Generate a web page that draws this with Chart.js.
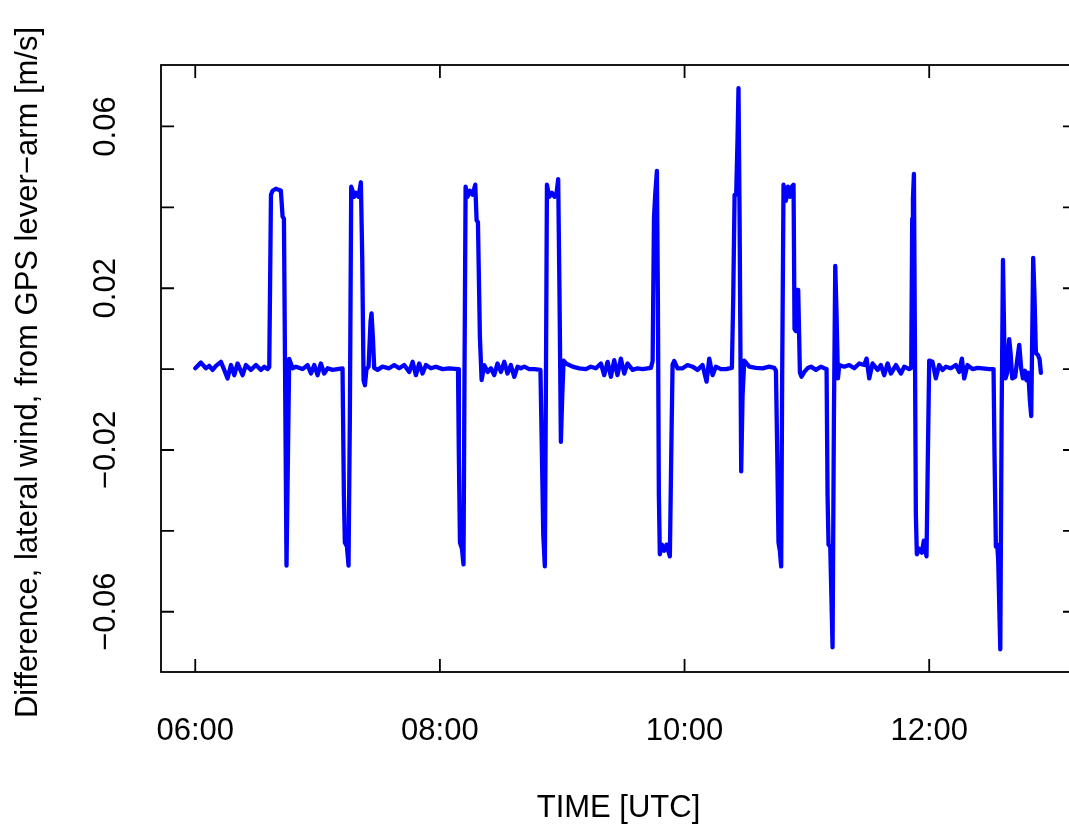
<!DOCTYPE html>
<html lang="en">
<head>
<meta charset="UTF-8">
<title>Difference, lateral wind</title>
<script src="https://cdn.jsdelivr.net/npm/chart.js@4"></script>
<style>
    html, body {
        margin: 0;
        padding: 0;
        background: #fff;
        overflow: hidden;
    }
    #wrap {
        position: absolute;
        left: 0;
        top: 0;
    }
</style>
</head>
<body>
<div id="wrap"><canvas id="chart" width="1090" height="827"></canvas></div>
<script>
// time in decimal hours (UTC), difference in m/s
const timeHours = [
    6.000, 6.046, 6.087, 6.114, 6.142, 6.169, 6.210, 6.237, 6.264, 6.292,
    6.319, 6.346, 6.387, 6.414, 6.455, 6.496, 6.537, 6.564, 6.591,
    6.605, 6.619, 6.632, 6.659, 6.687, 6.700, 6.714, 6.725, 6.746, 6.768,
    6.796, 6.823, 6.877, 6.918, 6.946, 6.973, 7.000, 7.027, 7.054, 7.082,
    7.123, 7.163, 7.204,
    7.215, 7.223, 7.240, 7.253, 7.264, 7.275, 7.286, 7.300, 7.313, 7.335,
    7.354, 7.365, 7.376, 7.387, 7.400, 7.417, 7.433, 7.441, 7.452, 7.463,
    7.490, 7.531, 7.585, 7.626, 7.667, 7.708, 7.749, 7.777, 7.804, 7.831,
    7.858, 7.886, 7.926, 7.967, 8.022, 8.076, 8.148,
    8.155, 8.164, 8.180, 8.193, 8.201, 8.210, 8.226, 8.245, 8.267, 8.289,
    8.300, 8.311, 8.327, 8.341,
    8.363, 8.390, 8.417, 8.444, 8.471, 8.499, 8.526, 8.553, 8.580, 8.608,
    8.635, 8.662, 8.690, 8.730, 8.771, 8.822,
    8.837, 8.845, 8.858, 8.867, 8.875, 8.894, 8.916, 8.937, 8.954, 8.967,
    8.978, 8.989, 9.000, 9.011,
    9.030, 9.085, 9.139, 9.194, 9.234, 9.275, 9.316, 9.343, 9.371, 9.398,
    9.425, 9.452, 9.479, 9.507, 9.534, 9.575, 9.616, 9.657, 9.725,
    9.739, 9.750, 9.760, 9.774, 9.782, 9.790, 9.798, 9.815, 9.833, 9.853,
    9.880, 9.891, 9.902, 9.915,
    9.943, 9.984, 10.024, 10.065, 10.106, 10.147, 10.180, 10.202, 10.229, 10.256,
    10.297, 10.338, 10.387,
    10.398, 10.409, 10.422, 10.433, 10.441, 10.450, 10.463, 10.474, 10.488,
    10.529, 10.583, 10.638, 10.692, 10.733, 10.747,
    10.758, 10.768, 10.779, 10.790, 10.798, 10.809, 10.828, 10.845, 10.861, 10.877,
    10.891, 10.899, 10.910, 10.918, 10.929, 10.943, 10.956,
    10.979, 11.005, 11.033, 11.074, 11.114, 11.142, 11.161,
    11.169, 11.177, 11.191, 11.210, 11.221, 11.232, 11.243, 11.254, 11.265,
    11.305, 11.346, 11.387, 11.428, 11.469, 11.488, 11.510, 11.537, 11.578, 11.605,
    11.632, 11.660, 11.687, 11.728, 11.769, 11.796, 11.837, 11.853,
    11.861, 11.867, 11.875, 11.883, 11.891, 11.899, 11.918, 11.940, 11.956, 11.978,
    11.989, 12.000,
    12.027, 12.054, 12.081, 12.109, 12.136, 12.177, 12.218, 12.245, 12.267, 12.286,
    12.313, 12.354, 12.395, 12.436, 12.491, 12.526,
    12.534, 12.545, 12.556, 12.564, 12.581, 12.592, 12.603, 12.613, 12.624, 12.638,
    12.654, 12.665, 12.679, 12.703, 12.719, 12.736, 12.752, 12.766, 12.782, 12.796,
    12.810, 12.823, 12.834, 12.842, 12.850, 12.861, 12.872, 12.888, 12.902, 12.913
];

const lateralDiff = [
    0.0002, 0.0016, 0.0002, 0.0008, -0.0002, 0.0008, 0.0018, -0.0002, -0.0023, 0.0010,
    -0.0015, 0.0014, -0.0015, 0.0010, -0.0002, 0.0010, -0.0002, 0.0006, 0.0000,
    0.0005, 0.0431, 0.0441, 0.0446, 0.0443, 0.0441, 0.0377, 0.0372, -0.0486, 0.0025,
    0.0002, 0.0006, 0.0000, 0.0010, -0.0011, 0.0010, -0.0015, 0.0014, -0.0011, 0.0002,
    -0.0002, 0.0000, 0.0002,
    -0.0310, -0.0429, -0.0439, -0.0486, -0.0116, 0.0451, 0.0441, 0.0426, 0.0436, 0.0426,
    0.0462, 0.0275, -0.0028, -0.0040, 0.0000, 0.0006, 0.0118, 0.0138, 0.0079, 0.0003,
    -0.0002, 0.0006, 0.0002, 0.0010, 0.0002, 0.0010, -0.0007, 0.0018, -0.0015, 0.0014,
    -0.0011, 0.0010, 0.0002, 0.0006, 0.0000, 0.0002, 0.0000,
    -0.0214, -0.0429, -0.0444, -0.0483, -0.0019, 0.0451, 0.0426, 0.0441, 0.0431, 0.0456,
    0.0368, 0.0363, 0.0079, -0.0027,
    0.0010, -0.0007, 0.0002, -0.0015, 0.0014, -0.0007, 0.0018, -0.0011, 0.0010, -0.0019,
    0.0006, 0.0002, 0.0006, 0.0000, 0.0000, -0.0002,
    -0.0263, -0.0410, -0.0488, -0.0019, 0.0456, 0.0426, 0.0436, 0.0426, 0.0436, 0.0470,
    0.0177, -0.0180, -0.0067, 0.0021,
    0.0014, 0.0006, 0.0002, 0.0000, 0.0006, 0.0002, 0.0014, -0.0015, 0.0018, -0.0019,
    0.0022, -0.0015, 0.0026, -0.0011, 0.0014, -0.0002, 0.0002, 0.0000, 0.0003,
    0.0020, 0.0372, 0.0431, 0.0490, 0.0177, -0.0310, -0.0458, -0.0434, -0.0449, -0.0434,
    -0.0463, -0.0214, 0.0011, 0.0020,
    0.0002, 0.0002, 0.0010, 0.0006, -0.0002, 0.0010, -0.0031, 0.0026, -0.0015, 0.0006,
    0.0000, 0.0000, 0.0003,
    0.0177, 0.0431, 0.0431, 0.0568, 0.0695, 0.0372, -0.0253, -0.0067, 0.0021,
    0.0006, 0.0003, 0.0002, 0.0006, 0.0003, -0.0004,
    -0.0214, -0.0429, -0.0449, -0.0488, -0.0019, 0.0456, 0.0416, 0.0451, 0.0426, 0.0451,
    0.0456, 0.0099, 0.0094, 0.0196, 0.0196, -0.0009, -0.0019,
    -0.0007, 0.0002, 0.0006, -0.0002, 0.0006, 0.0002, 0.0000,
    -0.0312, -0.0434, -0.0439, -0.0688, -0.0116, 0.0255, 0.0128, -0.0023, 0.0010,
    0.0006, 0.0010, 0.0002, 0.0014, 0.0010, 0.0026, -0.0023, 0.0014, -0.0002, 0.0010,
    -0.0015, 0.0014, -0.0011, 0.0010, -0.0011, 0.0006, 0.0000, 0.0003,
    0.0372, 0.0421, 0.0483, 0.0079, -0.0361, -0.0458, -0.0444, -0.0454, -0.0424, -0.0463,
    -0.0214, 0.0021,
    0.0018, -0.0023, 0.0010, -0.0002, 0.0006, 0.0002, 0.0010, -0.0007, 0.0026, -0.0023,
    0.0010, 0.0000, 0.0003, 0.0002, 0.0000, 0.0000,
    -0.0214, -0.0439, -0.0434, -0.0473, -0.0693, -0.0116, 0.0270, 0.0079, -0.0023, -0.0009,
    0.0074, 0.0040, -0.0023, -0.0019, 0.0021, 0.0060, 0.0001, -0.0023, -0.0004, -0.0028,
    -0.0009, -0.0077, -0.0116, 0.0079, 0.0275, 0.0177, 0.0040, 0.0035, 0.0025, -0.0009
];

const xTickHours = [6, 8, 10, 12];
const yTickValues = [-0.06, -0.04, -0.02, 0, 0.02, 0.04, 0.06];
const yTickLabelled = [-0.06, -0.02, 0.02, 0.06];
const xTitle = 'TIME [UTC]';
const yTitle = 'Difference, lateral wind, from GPS lever\u2212arm [m/s]';

const FONT = '31px "Liberation Sans", Arial, sans-serif';
const TICK_LEN = 13;

function hhmm(h) {
    const hh = Math.floor(h);
    const mm = Math.round((h - hh) * 60);
    return String(hh).padStart(2, '0') + ':' + String(mm).padStart(2, '0');
}

function fmtY(v) {
    return v.toFixed(2).replace('-', '\u2212');
}

// box, inward ticks on all four sides and the text, R style
const frame = {
    id: 'frame',
    afterDatasetsDraw(chart) {
        const { ctx, chartArea: a, scales: { x, y } } = chart;
        ctx.save();
        ctx.strokeStyle = '#000';
        ctx.lineWidth = 1.8;
        ctx.strokeRect(a.left, a.top, a.right - a.left, a.bottom - a.top);

        ctx.beginPath();
        xTickHours.forEach(h => {
            const px = x.getPixelForValue(h);
            ctx.moveTo(px, a.bottom);
            ctx.lineTo(px, a.bottom - TICK_LEN);
            ctx.moveTo(px, a.top);
            ctx.lineTo(px, a.top + TICK_LEN);
        });
        yTickValues.forEach(v => {
            const py = y.getPixelForValue(v);
            ctx.moveTo(a.left, py);
            ctx.lineTo(a.left + TICK_LEN, py);
            ctx.moveTo(a.right, py);
            ctx.lineTo(a.right - TICK_LEN, py);
        });
        ctx.stroke();

        ctx.fillStyle = '#000';
        ctx.font = FONT;
        ctx.textAlign = 'center';
        ctx.textBaseline = 'alphabetic';
        xTickHours.forEach(h => {
            ctx.fillText(hhmm(h), x.getPixelForValue(h), a.bottom + 68);
        });
        ctx.fillText(xTitle, (a.left + a.right) / 2, a.bottom + 145);

        yTickLabelled.forEach(v => {
            ctx.save();
            ctx.translate(a.left - 46, y.getPixelForValue(v));
            ctx.rotate(-Math.PI / 2);
            ctx.fillText(fmtY(v), 0, 0);
            ctx.restore();
        });

        ctx.save();
        ctx.translate(a.left - 124.5, (a.top + a.bottom) / 2 + 4);
        ctx.rotate(-Math.PI / 2);
        ctx.fillText(yTitle, 0, 0);
        ctx.restore();

        ctx.restore();
    }
};

const points = timeHours.map((t, i) => ({ x: t, y: lateralDiff[i] }));

new Chart(document.getElementById('chart'), {
    type: 'line',
    data: {
        datasets: [{
            data: points,
            borderColor: '#0000ff',
            borderWidth: 4.3,
            borderJoinStyle: 'round',
            borderCapStyle: 'round',
            pointRadius: 0,
            tension: 0,
            fill: false
        }]
    },
    options: {
        responsive: false,
        animation: false,
        layout: {
            padding: { left: 161, right: 14, top: 65, bottom: 155 }
        },
        plugins: {
            legend: { display: false },
            tooltip: { enabled: false }
        },
        scales: {
            x: { type: 'linear', display: false, min: 5.72, max: 13.2 },
            y: { type: 'linear', display: false, min: -0.0749, max: 0.0752 }
        }
    },
    plugins: [frame]
});
</script>
</body>
</html>
